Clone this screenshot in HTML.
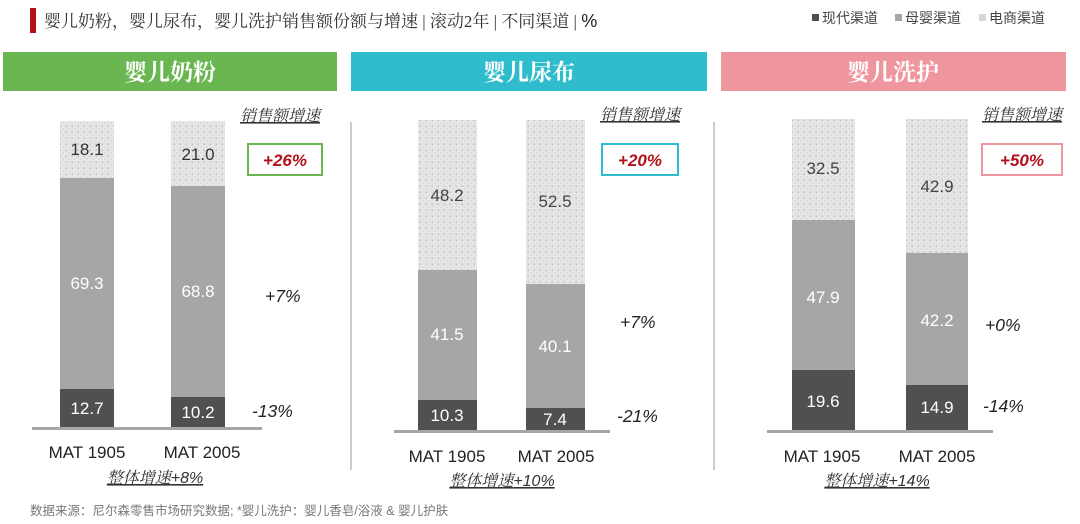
<!DOCTYPE html>
<html><head><meta charset="utf-8"><style>
html,body{margin:0;padding:0;background:#fff;}
svg{display:block;}
.cn{font-family:"Liberation Serif","Noto Serif CJK SC",serif;}
.s{font-family:"Liberation Sans","Noto Sans CJK SC",sans-serif;}
</style></head><body>
<svg width="1080" height="524" viewBox="0 0 1080 524" xmlns="http://www.w3.org/2000/svg">
<defs>
<pattern id="tex" width="6" height="6" patternUnits="userSpaceOnUse">
<rect width="6" height="6" fill="#dcdcdc"/>
<circle cx="3" cy="3" r="2" fill="none" stroke="#f2f2f2" stroke-width="0.9"/>
<rect x="0" y="0" width="1" height="1" fill="#c4c4c4"/>
</pattern>
</defs>
<rect x="30" y="8" width="6" height="25" fill="#b3111a"/>
<text x="44" y="27" class="cn" font-size="17" fill="#333">婴儿奶粉，婴儿尿布，婴儿洗护销售额份额与增速 | 滚动2年 | 不同渠道 | <tspan class="s" font-size="18" fill="#222">%</tspan></text>
<g class="s" font-size="14" fill="#444">
<rect x="812" y="14" width="7" height="7" fill="#505050"/><text x="822" y="23">现代渠道</text>
<rect x="895" y="14" width="7" height="7" fill="#a6a6a6"/><text x="905" y="23">母婴渠道</text>
<rect x="979" y="14" width="7" height="7" fill="#d6d6d6"/><text x="989" y="23">电商渠道</text>
</g>
<rect x="3" y="52" width="334" height="39" fill="#6ab650"/>
<rect x="351" y="52" width="356" height="39" fill="#2fbccc"/>
<rect x="721" y="52" width="345" height="39" fill="#ee959e"/>
<g class="cn" font-size="23" fill="#fff" text-anchor="middle" font-weight="bold">
<text x="170" y="80">婴儿奶粉</text><text x="529" y="80">婴儿尿布</text><text x="893" y="80">婴儿洗护</text>
</g>
<line x1="351" y1="122" x2="351" y2="470" stroke="#bbb" stroke-width="1.5"/>
<line x1="714" y1="122" x2="714" y2="470" stroke="#bbb" stroke-width="1.5"/>

<rect x="60" y="121" width="54" height="57" fill="url(#tex)"/>
<rect x="60" y="178" width="54" height="211" fill="#a6a6a6"/>
<rect x="60" y="389" width="54" height="39" fill="#505050"/>
<rect x="171" y="121" width="54" height="65" fill="url(#tex)"/>
<rect x="171" y="186" width="54" height="211" fill="#a6a6a6"/>
<rect x="171" y="397" width="54" height="31" fill="#505050"/>
<rect x="32" y="427" width="230" height="3" fill="#a6a6a6"/>
<rect x="418" y="120" width="59" height="150" fill="url(#tex)"/>
<rect x="418" y="270" width="59" height="130" fill="#a6a6a6"/>
<rect x="418" y="400" width="59" height="31" fill="#505050"/>
<rect x="526" y="120" width="59" height="164" fill="url(#tex)"/>
<rect x="526" y="284" width="59" height="124" fill="#a6a6a6"/>
<rect x="526" y="408" width="59" height="23" fill="#505050"/>
<rect x="394" y="430" width="216" height="3" fill="#a6a6a6"/>
<rect x="792" y="119" width="63" height="101" fill="url(#tex)"/>
<rect x="792" y="220" width="63" height="150" fill="#a6a6a6"/>
<rect x="792" y="370" width="63" height="61" fill="#505050"/>
<rect x="906" y="119" width="62" height="134" fill="url(#tex)"/>
<rect x="906" y="253" width="62" height="132" fill="#a6a6a6"/>
<rect x="906" y="385" width="62" height="46" fill="#505050"/>
<rect x="767" y="430" width="226" height="3" fill="#a6a6a6"/>

<g class="s" font-size="17" text-anchor="middle">
<text x="87" y="155" fill="#333">18.1</text>
<text x="198" y="160" fill="#333">21.0</text>
<text x="87" y="289" fill="#fff">69.3</text>
<text x="198" y="297" fill="#fff">68.8</text>
<text x="87" y="414" fill="#fff">12.7</text>
<text x="198" y="418" fill="#fff">10.2</text>
<text x="447" y="201" fill="#444">48.2</text>
<text x="555" y="207" fill="#444">52.5</text>
<text x="447" y="340" fill="#fff">41.5</text>
<text x="555" y="352" fill="#fff">40.1</text>
<text x="447" y="421" fill="#fff">10.3</text>
<text x="555" y="425" fill="#fff">7.4</text>
<text x="823" y="174" fill="#444">32.5</text>
<text x="937" y="192" fill="#444">42.9</text>
<text x="823" y="303" fill="#fff">47.9</text>
<text x="937" y="326" fill="#fff">42.2</text>
<text x="823" y="407" fill="#fff">19.6</text>
<text x="937" y="413" fill="#fff">14.9</text>
</g>
<g class="s" font-size="17" fill="#222" text-anchor="middle">
<text x="87" y="458">MAT 1905</text><text x="202" y="458">MAT 2005</text>
<text x="447" y="462">MAT 1905</text><text x="556" y="462">MAT 2005</text>
<text x="822" y="462">MAT 1905</text><text x="937" y="462">MAT 2005</text>
</g>
<g class="cn" font-size="16" fill="#333" font-style="italic" text-anchor="middle">
<text x="155" y="483" text-decoration="underline">整体增速<tspan class="s">+8%</tspan></text>
<text x="502" y="486" text-decoration="underline">整体增速<tspan class="s">+10%</tspan></text>
<text x="877" y="486" text-decoration="underline">整体增速<tspan class="s">+14%</tspan></text>
<text x="280" y="121" text-decoration="underline">销售额增速</text>
<text x="640" y="120" text-decoration="underline">销售额增速</text>
<text x="1022" y="120" text-decoration="underline">销售额增速</text>
</g>
<rect x="248" y="144" width="74" height="31" fill="#fff" stroke="#6ab650" stroke-width="2"/>
<rect x="602" y="144" width="76" height="31" fill="#fff" stroke="#2fbccc" stroke-width="2"/>
<rect x="982" y="144" width="80" height="31" fill="#fff" stroke="#ee959e" stroke-width="2"/>
<g class="s" font-size="17" font-weight="bold" font-style="italic" fill="#b3111a" text-anchor="middle">
<text x="285" y="166">+26%</text><text x="640" y="166">+20%</text><text x="1022" y="166">+50%</text>
</g>
<g class="s" font-size="17.5" font-style="italic" fill="#222">
<text x="265" y="302">+7%</text><text x="252" y="417">-13%</text>
<text x="620" y="328">+7%</text><text x="617" y="422">-21%</text>
<text x="985" y="331">+0%</text><text x="983" y="412">-14%</text>
</g>
<text x="30" y="515" class="s" font-size="12.5" fill="#777">数据来源：尼尔森零售市场研究数据; *婴儿洗护：婴儿香皂/浴液 &amp; 婴儿护肤</text>
</svg>
</body></html>
